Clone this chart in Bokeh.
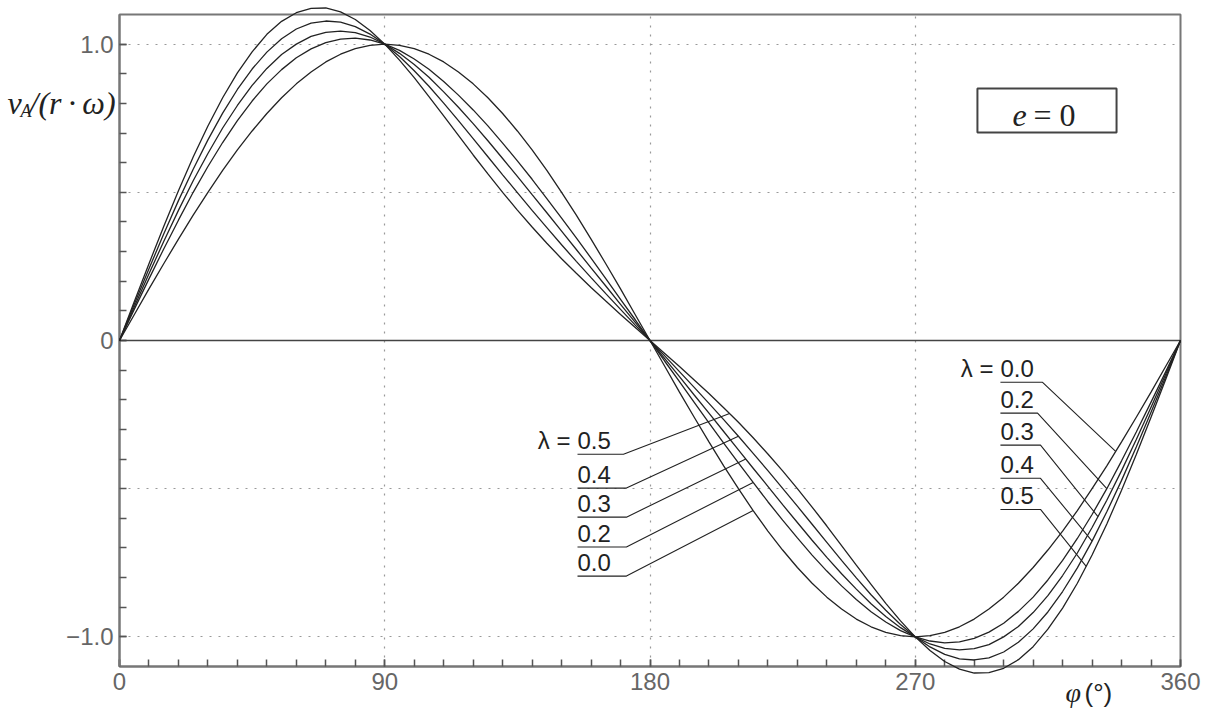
import numpy as np
from bokeh.plotting import figure
from bokeh.models import FixedTicker, Span, BoxAnnotation, Range1d
from bokeh.core.properties import value
from bokeh.embed import file_html
from bokeh.resources import INLINE

# crank angle (degrees)
phi = list(range(0, 361, 5))

# v_A/(r*omega), one list per lambda
v_l00 = [0, .087, .174, .259, .342, .423, .5, .574, .643, .707, .766, .819, .866, .906, .940, .966, .985, .996, 1,
         .996, .985, .966, .940, .906, .866, .819, .766, .707, .643, .574, .5, .423, .342, .259, .174, .087, 0,
         -.087, -.174, -.259, -.342, -.423, -.5, -.574, -.643, -.707, -.766, -.819, -.866, -.906, -.940, -.966, -.985, -.996, -1,
         -.996, -.985, -.966, -.940, -.906, -.866, -.819, -.766, -.707, -.643, -.574, -.5, -.423, -.342, -.259, -.174, -.087, 0]
v_l02 = [0, .105, .208, .309, .406, .500, .587, .668, .742, .808, .866, .914, .954, .984, 1.005, 1.017, 1.020, 1.014, 1,
         .979, .950, .915, .874, .828, .778, .724, .666, .606, .544, .479, .413, .346, .278, .209, .139, .070, 0,
         -.070, -.139, -.209, -.278, -.346, -.413, -.479, -.544, -.606, -.666, -.724, -.778, -.828, -.874, -.915, -.950, -.979, -1,
         -1.014, -1.020, -1.017, -1.005, -.984, -.954, -.914, -.866, -.808, -.742, -.668, -.587, -.500, -.406, -.309, -.208, -.105, 0]
v_l03 = [0, .113, .225, .334, .439, .539, .631, .717, .793, .861, .918, .965, 1.000, 1.026, 1.040, 1.044, 1.039, 1.024, 1,
         .969, .931, .888, .839, .787, .732, .674, .614, .554, .492, .431, .369, .307, .245, .184, .122, .061, 0,
         -.061, -.122, -.184, -.245, -.307, -.369, -.431, -.492, -.554, -.614, -.674, -.732, -.787, -.839, -.888, -.931, -.969, -1,
         -1.024, -1.039, -1.044, -1.040, -1.026, -1.000, -.965, -.918, -.861, -.793, -.717, -.631, -.539, -.439, -.334, -.225, -.113, 0]
v_l04 = [0, .122, .242, .359, .472, .578, .677, .767, .847, .916, .973, 1.018, 1.051, 1.071, 1.078, 1.074, 1.059, 1.034, 1,
         .958, .910, .858, .801, .742, .681, .620, .559, .499, .439, .381, .323, .267, .212, .158, .105, .052, 0,
         -.052, -.105, -.158, -.212, -.267, -.323, -.381, -.439, -.499, -.559, -.620, -.681, -.742, -.801, -.858, -.910, -.958, -1,
         -1.034, -1.059, -1.074, -1.078, -1.071, -1.051, -1.018, -.973, -.916, -.847, -.767, -.677, -.578, -.472, -.359, -.242, -.122, 0]
v_l05 = [0, .131, .259, .385, .505, .619, .724, .819, .903, .974, 1.033, 1.077, 1.106, 1.121, 1.122, 1.109, 1.083, 1.046, 1,
         .946, .887, .823, .758, .692, .626, .562, .500, .440, .383, .328, .276, .227, .179, .133, .088, .044, 0,
         -.044, -.088, -.133, -.179, -.227, -.276, -.328, -.383, -.440, -.500, -.562, -.626, -.692, -.758, -.823, -.887, -.946, -1,
         -1.046, -1.083, -1.109, -1.122, -1.121, -1.106, -1.077, -1.033, -.974, -.903, -.819, -.724, -.619, -.505, -.385, -.259, -.131, 0]

series = {"0.0": v_l00, "0.2": v_l02, "0.3": v_l03, "0.4": v_l04, "0.5": v_l05}

x_ticks = [0, 90, 180, 270, 360]
x_tick_labels = ["0", "90", "180", "270", "360"]
y_ticks = [-1.0, 0.0, 1.0]
y_tick_labels = ["\u22121.0", "0", "1.0"]

# label layout (annotation positions)
left_names = ["0.5", "0.4", "0.3", "0.2", "0.0"]
left_ul_y = [-0.384, -0.498, -0.596, -0.697, -0.795]
left_ul_x0 = 155.4
left_ul_x1 = [171.0, 172.0, 172.0, 172.0, 172.0]
left_hit = [207, 210, 212.5, 215, 215]

right_names = ["0.0", "0.2", "0.3", "0.4", "0.5"]
right_ul_y = [-0.141, -0.245, -0.353, -0.465, -0.570]
right_ul_x0 = 298.9
right_ul_x1 = [313.2, 311.5, 312.5, 312.5, 312.5]
right_hit = [338, 335, 332, 330, 328]

INK = "#222222"
FRAME = "#777777"
PX_X = 360 / 1061.0     # degrees per pixel
PX_Y = 2.2 / 652.0      # units per pixel

p = figure(width=1214, height=709, output_backend="svg", toolbar_location=None,
           x_range=Range1d(0, 360), y_range=Range1d(-1.1, 1.1),
           min_border_left=119, min_border_right=34, min_border_top=14, min_border_bottom=43)
p.background_fill_color = "white"
p.border_fill_color = "white"
p.outline_line_color = FRAME
p.outline_line_width = 2

for ax in (p.xaxis[0], p.yaxis[0]):
    ax.axis_line_color = FRAME
    ax.axis_line_width = 2
    ax.major_tick_in = 7
    ax.major_tick_out = 0
    ax.minor_tick_in = 7
    ax.minor_tick_out = 0
    ax.major_tick_line_color = "#555555"
    ax.minor_tick_line_color = "#555555"
    ax.major_tick_line_width = 1.5
    ax.minor_tick_line_width = 1.5
    ax.major_label_text_font = "Liberation Sans"
    ax.major_label_text_font_size = "24px"
    ax.major_label_text_color = "#666666"

p.xaxis.ticker = FixedTicker(ticks=x_ticks, minor_ticks=list(range(0, 361, 10)))
p.xaxis.major_label_overrides = {float(t): s for t, s in zip(x_ticks, x_tick_labels)}
p.xaxis.major_label_standoff = 6
p.yaxis.ticker = FixedTicker(ticks=y_ticks, minor_ticks=[round(-1.0 + 0.1 * i, 1) for i in range(21)])
p.yaxis.major_label_overrides = {float(t): s for t, s in zip(y_ticks, y_tick_labels)}
p.yaxis.major_label_standoff = 6

p.xgrid.ticker = FixedTicker(ticks=[90, 180, 270])
p.ygrid.ticker = FixedTicker(ticks=[-1.0, -0.5, 0.5, 1.0])
for g in (p.xgrid[0], p.ygrid[0]):
    g.grid_line_color = "#999999"
    g.grid_line_dash = "2 7"
    g.grid_line_width = 1.2

p.add_layout(Span(location=0, dimension="width", line_color="#444444", line_width=1.5))

# e = 0 frame (drawn first so the text stays on top)
p.add_layout(BoxAnnotation(left=291.1, right=338.3, bottom=0.7015, top=0.850, fill_alpha=0,
                           line_color="#444444", line_alpha=1, line_width=2, level="underlay"))

phi_arr = np.array(phi, dtype=float)
for name, vals in series.items():
    p.line(phi, vals, line_color=INK, line_width=1.3, level="overlay")


def txt(x, y, s, font, size, style="normal", align="left", baseline="middle", color=INK):
    p.text(x=[x], y=[y], text=[s], text_font=value(font), text_font_size=value(size),
           text_font_style=value(style), text_align=value(align), text_baseline=value(baseline),
           text_color=color, level="overlay")


# leader lines with underlines
def leaders(names, ul_y, x0, x1s, hits):
    for i, (nm, uy, x1, h) in enumerate(zip(names, ul_y, x1s, hits)):
        hy = float(np.interp(h, phi_arr, np.array(series[nm])))
        p.line([x0, x1, h], [uy, uy, hy], line_color=INK, line_width=1.1, level="overlay")
        txt(x0, uy + 14 * PX_Y, nm, "Liberation Sans", "24px", baseline="alphabetic")
        if i == 0:
            txt(x0 - 7 * PX_X, uy + 14 * PX_Y, "\u03bb =", "Liberation Sans", "24px",
                align="right", baseline="alphabetic")


leaders(left_names, left_ul_y, left_ul_x0, left_ul_x1, left_hit)
leaders(right_names, right_ul_y, right_ul_x0, right_ul_x1, right_hit)

# y-axis title  v_A/(r·ω)
YT = 0.80
txt(-112 * PX_X, YT, "v", "Liberation Serif", "32px", style="italic")
txt(-99 * PX_X, YT - 8 * PX_Y, "A", "Liberation Serif", "18px", style="italic")
txt(-90 * PX_X, YT, "/(r\u2009\u00b7\u2009\u03c9)", "Liberation Serif", "32px", style="italic")

# x-axis title  φ(°)
txt(321.0, -1.188, "\u03c6", "Liberation Serif", "28px", style="italic")
txt(321.0 + 19 * PX_X, -1.188, "(\u00b0)", "Liberation Sans", "26px")

# e = 0
txt(303.0, 0.760, "e", "Liberation Serif", "32px", style="italic")
txt(303.0 + 21 * PX_X, 0.760, "= 0", "Liberation Serif", "32px")

open("out.html", "w").write(file_html(p, INLINE))
